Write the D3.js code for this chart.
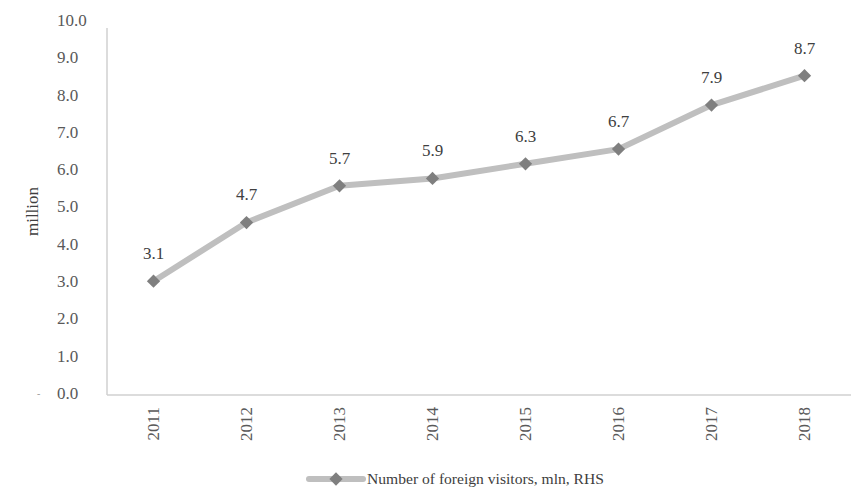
<!DOCTYPE html>
<html><head><meta charset="utf-8">
<script src="https://cdn.jsdelivr.net/npm/d3@7"></script>
<style>
body{margin:0;background:#fff;}
text{font-family:"Liberation Serif","Times New Roman",serif;}
</style></head>
<body><svg id="c" width="858" height="490"></svg>
<script>
const years = ["2011","2012","2013","2014","2015","2016","2017","2018"];
const visitors = [3.1, 4.7, 5.7, 5.9, 6.3, 6.7, 7.9, 8.7];
const yTicks = [0,1,2,3,4,5,6,7,8,9,10];
const seriesName = "Number of foreign visitors, mln, RHS";
const yTitle = "million";

const svg = d3.select("#c");
const pL = 107, pR = 851, pT = 28, pB = 395;
const x = d3.scaleBand().domain(years).range([pL, pR]);
const y = d3.scaleLinear().domain([0,10]).range([pB, pT]);
const yLab = d3.scaleLinear().domain([0,10]).range([393, 20]);

// frame lines
svg.append("line").attr("x1",pL).attr("x2",pL).attr("y1",pT).attr("y2",pB)
  .attr("stroke","#d0d0d0").attr("stroke-width",1.5);
svg.append("line").attr("x1",pL).attr("x2",pR).attr("y1",pB).attr("y2",pB)
  .attr("stroke","#d0d0d0").attr("stroke-width",1.5);

// y tick labels (left aligned)
svg.append("g").selectAll("text").data(yTicks).join("text")
  .attr("x",57).attr("y",d=>yLab(d)).attr("dy","0.35em")
  .attr("font-size",17).attr("fill","#595959")
  .text(d=>d.toFixed(1));
svg.append("text").attr("x",37).attr("y",yLab(0)).attr("dy","0.35em")
  .attr("font-size",10).attr("fill","#999").text("-");

// y title
svg.append("text").attr("transform",`translate(38,${(pT+pB)/2}) rotate(-90)`)
  .attr("text-anchor","middle").attr("font-size",17).attr("fill","#404040").text(yTitle);

// x tick labels
svg.append("g").selectAll("text").data(years).join("text")
  .attr("transform",d=>`translate(${x(d)+x.bandwidth()/2},407) rotate(-90)`)
  .attr("text-anchor","end").attr("dy","0.35em")
  .attr("font-size",17).attr("fill","#595959").text(d=>d);

// line
const cx = (d,i)=>x(years[i])+x.bandwidth()/2;
svg.append("path").datum(visitors)
  .attr("d", d3.line().x(cx).y(d=>y(d)))
  .attr("fill","none").attr("stroke","#bfbfbf").attr("stroke-width",6).attr("stroke-linejoin","round");

// markers
svg.append("g").selectAll("path").data(visitors).join("path")
  .attr("d", d3.symbol().type(d3.symbolSquare).size(88))
  .attr("transform",(d,i)=>`translate(${cx(d,i)},${y(d)}) rotate(45)`)
  .attr("fill","#7f7f7f");

// value labels
svg.append("g").selectAll("text").data(visitors).join("text")
  .attr("x",cx).attr("y",d=>y(d)-28).attr("dy","0.35em")
  .attr("text-anchor","middle").attr("font-size",17).attr("fill","#404040")
  .text(d=>d.toFixed(1));

// legend
const lg = svg.append("g");
lg.append("line").attr("x1",309).attr("x2",363).attr("y1",479).attr("y2",479)
  .attr("stroke","#bfbfbf").attr("stroke-width",6).attr("stroke-linecap","round");
lg.append("path").attr("d", d3.symbol().type(d3.symbolSquare).size(88))
  .attr("transform","translate(336,479) rotate(45)").attr("fill","#7f7f7f");
lg.append("text").attr("x",367).attr("y",479).attr("dy","0.35em")
  .attr("font-size",15.6).attr("fill","#404040").text(seriesName);
</script></body></html>
